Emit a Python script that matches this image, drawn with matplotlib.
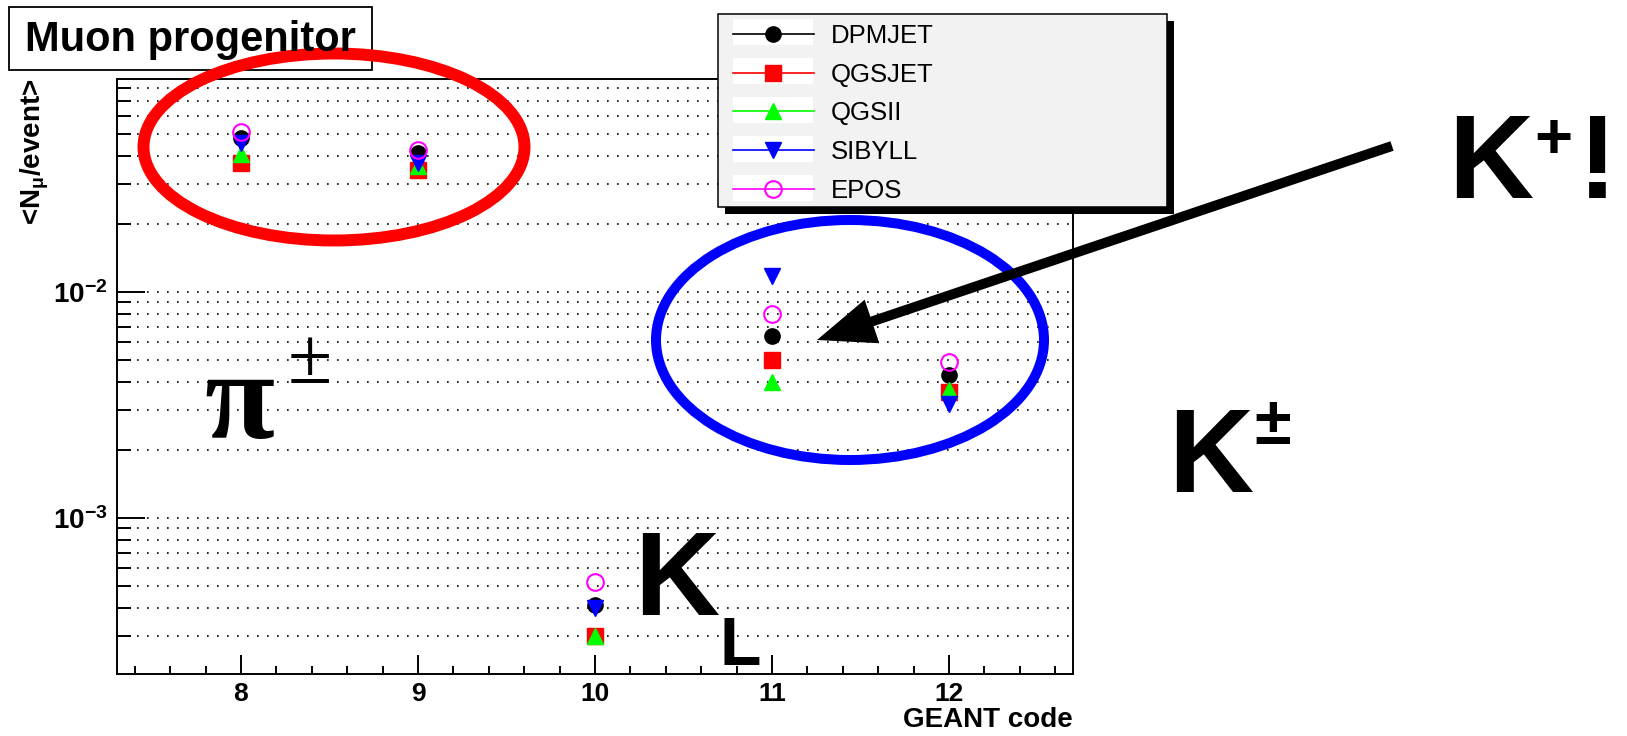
import numpy as np
import matplotlib
matplotlib.use("Agg")
import matplotlib.pyplot as plt
from matplotlib.lines import Line2D
from matplotlib.patches import Ellipse, Rectangle, FancyArrow
from matplotlib.ticker import MultipleLocator, LogLocator, NullFormatter, FuncFormatter

plt.rcParams["font.family"] = ["Liberation Sans", "DejaVu Sans"]
plt.rcParams["mathtext.fontset"] = "custom"
plt.rcParams["mathtext.rm"] = "Liberation Sans"
plt.rcParams["mathtext.it"] = "Liberation Sans:italic"
plt.rcParams["mathtext.bf"] = "Liberation Sans:bold"

##### Data #####
geant_code = [8, 9, 10, 11, 12]
dpmjet = [0.0480, 0.0412, 0.00041, 0.0064, 0.0043]
qgsjet = [0.0372, 0.0347, 0.00030, 0.0050, 0.0036]
qgsii = [0.0408, 0.0360, 0.00030, 0.0040, 0.0037]
sibyll = [0.0457, 0.0370, 0.00040, 0.0118, 0.0032]
epos = [0.0510, 0.0425, 0.00052, 0.0080, 0.0049]

model_names = ["DPMJET", "QGSJET", "QGSII", "SIBYLL", "EPOS"]
model_values = [dpmjet, qgsjet, qgsii, sibyll, epos]

# marker styles per model (ROOT-like)
styles = [
    dict(color="black", marker="o", ms=11, mfc="black", mec="black"),
    dict(color="red", marker="s", ms=11, mfc="red", mec="red"),
    dict(color="#00ff00", marker="^", ms=11, mfc="#00ff00", mec="#00ff00"),
    dict(color="blue", marker="v", ms=12, mfc="blue", mec="blue"),
    dict(color="magenta", marker="o", ms=12, mfc="none", mec="magenta", mew=1.5),
]

##### Figure #####
W, H = 1627, 736
fig = plt.figure(figsize=(W / 100, H / 100), dpi=100)
ax = fig.add_axes([117 / W, 1 - 674 / H, 956 / W, 595 / H])

for vals, st in zip(model_values, styles):
    ax.plot(geant_code, vals, linestyle="none", **st)

ax.set_yscale("log")
ax.set_xlim(7.3, 12.7)
ax.set_ylim(2.04e-4, 0.0875)

ax.xaxis.set_major_locator(MultipleLocator(1))
ax.xaxis.set_minor_locator(MultipleLocator(0.2))
ax.yaxis.set_major_locator(LogLocator(base=10))
ax.yaxis.set_minor_locator(LogLocator(base=10, subs=np.arange(2, 10)))
ax.yaxis.set_minor_formatter(NullFormatter())
ax.yaxis.set_major_formatter(FuncFormatter(lambda v, p: r"$\mathbf{10^{%d}}$" % round(np.log10(v))))
ax.xaxis.set_major_formatter(FuncFormatter(lambda v, p: "%d" % v))

ax.tick_params(axis="both", which="both", direction="in", top=False, right=False, width=1.4)
ax.tick_params(axis="y", which="major", length=20, pad=7, labelsize=20)
ax.tick_params(axis="y", which="minor", length=10)
ax.tick_params(axis="x", which="major", length=13.5, pad=6, labelsize=19)
ax.tick_params(axis="x", which="minor", length=6)
for lab in ax.get_xticklabels() + ax.get_yticklabels():
    lab.set_fontweight("bold")
for sp in ax.spines.values():
    sp.set_linewidth(1.4)

ax.grid(True, axis="y", which="both", color="black", linestyle=(0, (1, 5)), linewidth=1.2)
ax.set_axisbelow(True)

ax.set_xlabel("GEANT code", fontsize=20, fontweight="bold", loc="right")
ax.xaxis.set_label_coords(1.0, -0.055)
ax.set_ylabel(r"<N$_{\mathbf{\mu}}$/event>", fontsize=20, fontweight="bold", loc="top")
ax.yaxis.set_label_coords(-0.086, 1.0)
ax.yaxis.label.set_va("center")

##### Overlay for annotations (pixel coordinates) #####
ov = fig.add_axes([0, 0, 1, 1], zorder=2)
ov.set_xlim(0, W)
ov.set_ylim(H, 0)
ov.axis("off")
ov.patch.set_alpha(0)

# title box
ov.add_patch(Rectangle((9, 7), 363, 63, facecolor="white", edgecolor="black", lw=1.3))
ov.text(190, 40, "Muon progenitor", fontsize=30, fontweight="bold", ha="center", va="center")

# legend frame + shadow
ov.add_patch(Rectangle((725, 21), 449, 193, facecolor="black", edgecolor="none"))
ov.add_patch(Rectangle((718, 14), 449, 193, facecolor="#f2f2f2", edgecolor="black", lw=1.1))
for i in range(5):
    ov.add_patch(Rectangle((733, 19 + 39 * i), 80, 26, facecolor="white", edgecolor="none"))

# ellipses
ov.add_patch(Ellipse((334, 147), 381, 187, fill=False, edgecolor="red", lw=8.6))
ov.add_patch(Ellipse((850, 340), 388, 240, fill=False, edgecolor="blue", lw=7.2))

# arrow
ov.add_patch(FancyArrow(1392, 146, 817 - 1392, 340 - 146, width=10, head_width=46,
                        head_length=58, length_includes_head=True, color="black", lw=0))

# big labels
ov.text(1448, 198, "K", fontsize=85, fontweight="bold", ha="left", va="baseline")
ov.text(1553, 158, "+", fontsize=47, fontweight="bold", ha="center", va="baseline")
ov.text(1578, 198, "!", fontsize=85, fontweight="bold", ha="left", va="baseline")

ov.text(1168, 492, "K", fontsize=85, fontweight="bold", ha="left", va="baseline")
ov.text(1273, 444, "±", fontsize=48, fontweight="bold", ha="center", va="baseline")

ov.text(204, 438, "π", fontsize=92, fontweight="bold", family="Liberation Serif", ha="left", va="baseline")
ov.text(310, 383, "±", fontsize=58, family="Liberation Serif", ha="center", va="baseline")

ov.text(634, 615, "K", fontsize=85, fontweight="bold", ha="left", va="baseline")
ov.text(720, 665, "L", fontsize=49, fontweight="bold", ha="left", va="baseline")

##### Legend #####
handles = [Line2D([], [], linestyle="-", linewidth=1.2, **st) for st in styles]
fig.legend(handles, model_names, loc="upper left", bbox_to_anchor=(733 / W, 1 - 24 / H),
           frameon=False, borderpad=0, borderaxespad=0, prop={"size": 18.5},
           handlelength=3.15, handletextpad=0.66, labelspacing=0.57, numpoints=1)

fig.savefig("out.png", dpi=100)
